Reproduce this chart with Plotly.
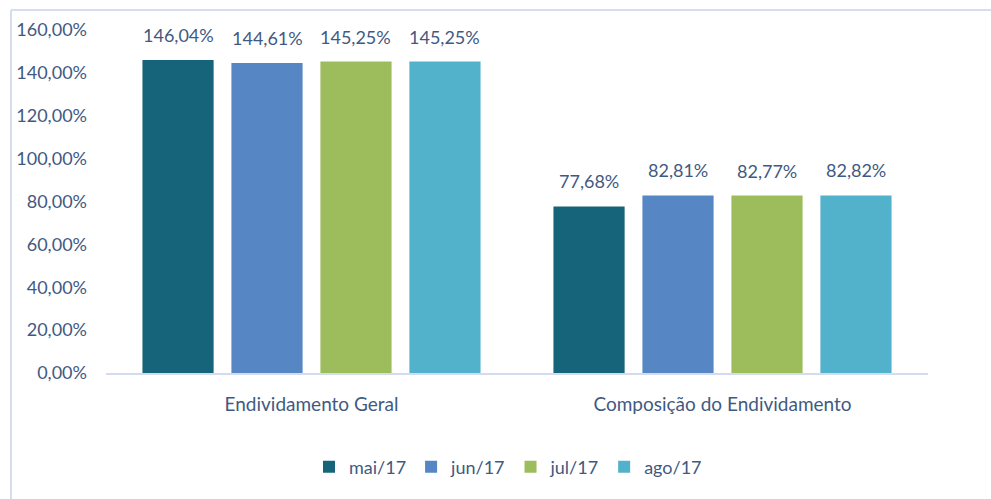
import plotly.graph_objects as go

categories = ["Endividamento Geral", "Composição do Endividamento"]
series_names = ["mai/17", "jun/17", "jul/17", "ago/17"]
mai_17 = [146.04, 77.68]
jun_17 = [144.61, 82.81]
jul_17 = [145.25, 82.77]
ago_17 = [145.25, 82.82]
y_tick_vals = [0, 20, 40, 60, 80, 100, 120, 140, 160]
y_tick_text = ["0,00%", "20,00%", "40,00%", "60,00%", "80,00%",
               "100,00%", "120,00%", "140,00%", "160,00%"]

series_values = [mai_17, jun_17, jul_17, ago_17]
colors = ["#16647A", "#5686C4", "#9DBD5C", "#53B2CB"]
text_color = "#3F5A82"
FONT = "Lato"

W, H = 991, 499
ML, MR, MT, MB = 106, 63, 30, 126
BARGAP = 0.134
BARGROUPGAP = 0.20

fig = go.Figure()
for name, vals, col in zip(series_names, series_values, colors):
    fig.add_trace(go.Bar(
        name=name, x=categories, y=vals,
        marker=dict(color=col, line=dict(width=0)),
        hoverinfo="skip",
    ))

# data labels above bars, positioned via category index + group offset
n = len(series_names)
annotations = []
for j, vals in enumerate(series_values):
    off = -(1 - BARGAP) / 2 + (j + 0.5) * (1 - BARGAP) / n
    for i, v in enumerate(vals):
        annotations.append(dict(
            x=i + off, y=v, xref="x", yref="y",
            text=f"{v:.2f}".replace(".", ",") + "%",
            showarrow=False, yanchor="bottom", yshift=12,
            font=dict(family=FONT, size=18, color=text_color),
        ))

pw = W - ML - MR
ph = H - MT - MB
def px_x(p):
    return (p - ML) / pw
def px_y(p):
    return (H - MB - p) / ph

border = "#D6DDF0"
shapes = [
    dict(type="line", xref="paper", yref="paper", x0=px_x(11), x1=px_x(W + 5),
         y0=px_y(10), y1=px_y(10), line=dict(color=border, width=2)),
    dict(type="line", xref="paper", yref="paper", x0=px_x(11), x1=px_x(11),
         y0=px_y(10), y1=px_y(H + 5), line=dict(color=border, width=2)),
]

fig.update_layout(
    width=W, height=H,
    margin=dict(l=ML, r=MR, t=MT, b=MB, pad=0),
    paper_bgcolor="white", plot_bgcolor="white",
    barmode="group", bargap=BARGAP, bargroupgap=BARGROUPGAP,
    separators=",.",
    font=dict(family=FONT, size=18, color=text_color),
    showlegend=True,
    legend=dict(orientation="h", x=px_x(508), xanchor="center",
                y=px_y(467), yanchor="middle",
                font=dict(family=FONT, size=18, color=text_color),
                itemwidth=30, traceorder="normal"),
    annotations=annotations,
    shapes=shapes,
)
fig.update_xaxes(
    type="category", range=[-0.5, 1.5],
    showline=True, linecolor="#D3DCEE", linewidth=2,
    showgrid=False, ticks="", ticklabelstandoff=13,
    tickfont=dict(family=FONT, size=19, color=text_color),
)
fig.update_yaxes(
    range=[0, 160], tickvals=y_tick_vals, ticktext=y_tick_text,
    showgrid=False, showline=False, zeroline=False, ticks="",
    ticklabelstandoff=18,
    tickfont=dict(family=FONT, size=18, color=text_color),
)

fig.write_html("out.html")
